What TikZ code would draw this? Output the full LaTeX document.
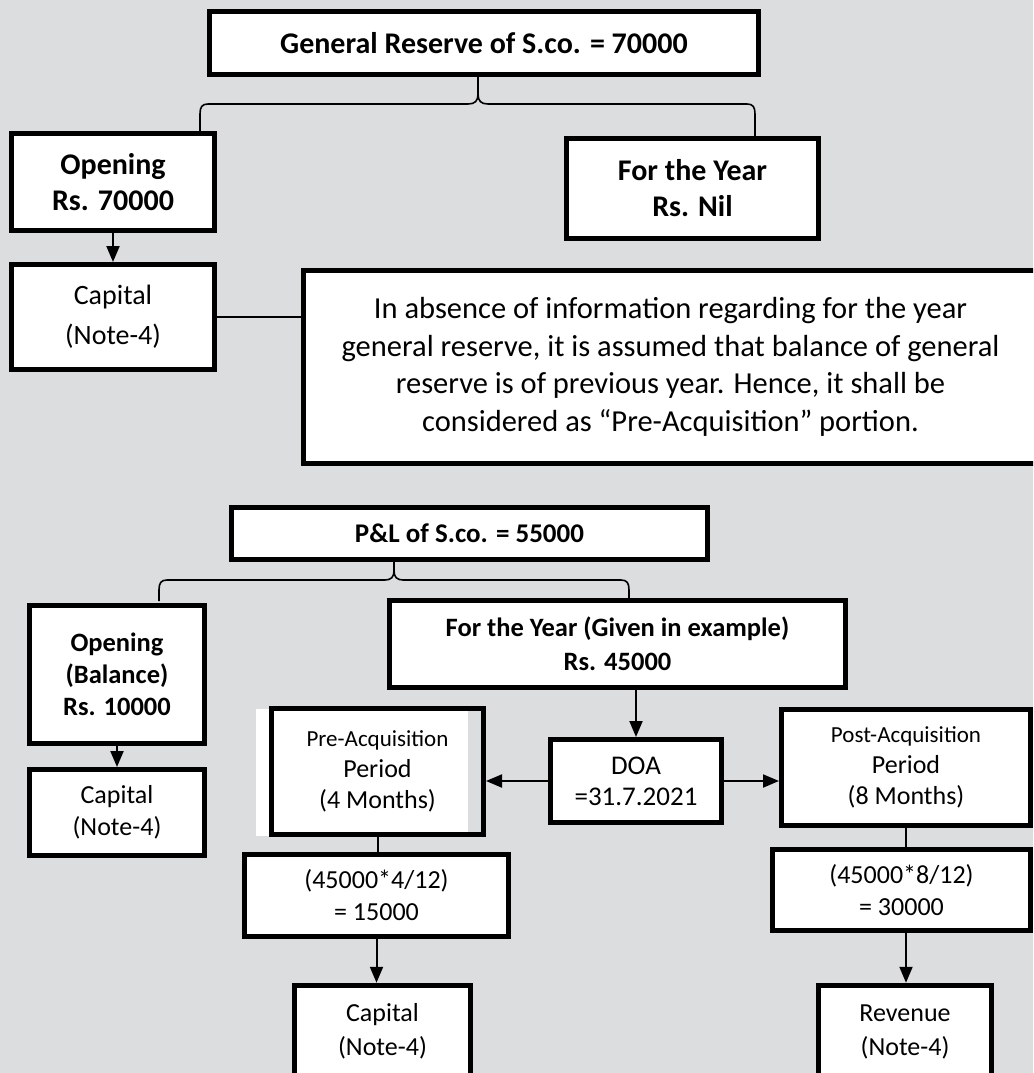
\documentclass[tikz,border=0pt]{standalone}
\usepackage{fontspec}
\setmainfont{Carlito}
\usetikzlibrary{arrows.meta,calc}
\definecolor{bgray}{RGB}{220,221,223}
\newcommand\myfs[2]{\fontsize{#1}{#2}\selectfont}
\begin{document}
\begin{tikzpicture}[x=1pt,y=-1pt,
  box/.style={draw=black, line width=5pt, fill=white, align=center, inner sep=0pt},
  conn/.style={line width=2pt},
  arr/.style={line width=2pt, -{Triangle[width=13pt,length=16pt]}},
  bracepath/.style={line width=1.6pt, line join=round}]
\useasboundingbox (0,0) rectangle (1033,1073);
\clip (0,0) rectangle (1033,1073);
\fill[bgray] (0,0) rectangle (1033,1073);

% ---------- top part ----------
\node[box, minimum width=549pt, minimum height=63pt, font=\myfs{30}{36}\bfseries] (gr) at (484,43) {General Reserve of S.co. = 70000};
\node[box, minimum width=203pt, minimum height=97pt, font=\myfs{30}{36}\bfseries] (op1) at (113,182) {Opening\\Rs. 70000};
\node[box, minimum width=252pt, minimum height=100pt, font=\myfs{30}{36}\bfseries] (fy1) at (692.5,188) {For the Year\\Rs. Nil};
\node[box, minimum width=203pt, minimum height=105pt, font=\myfs{28}{40}] (cap1) at (113,317) {Capital\\(Note-4)};
\node[box, minimum width=734pt, minimum height=193pt, font=\myfs{30.5}{37.5}] (note) at (670.5,367) {In absence of information regarding for the year\\general reserve, it is assumed that balance of general\\reserve is of previous year. Hence, it shall be\\considered as “Pre-Acquisition” portion.};

\coordinate (b1l) at (200,131);
\coordinate (b1r) at (755,136);
\coordinate (b1m) at (478,77);
\draw[bracepath] (b1l) -- (200,114) .. controls (200,107) and (202,104) .. (208,104) -- (468,104) .. controls (475,104) and (478,101) .. (478,94) -- (b1m);
\draw[bracepath] (478,94) .. controls (478,101) and (481,104) .. (488,104) -- (747,104) .. controls (753,104) and (755,107) .. (755,114) -- (b1r);

\draw[arr] (op1.south) -- (cap1.north);
\draw[conn] (cap1.east) -- (cap1.east -| note.west);

% ---------- bottom part ----------
\node[box, minimum width=476pt, minimum height=52pt, font=\myfs{27}{32}\bfseries] (pl) at (469.5,533.5) {P\&L of S.co. = 55000};
\node[box, minimum width=175pt, minimum height=138pt, font=\myfs{26.5}{32}\bfseries] (op2) at (117,674.5) {Opening\\(Balance)\\Rs. 10000};
\node[box, minimum width=175pt, minimum height=86pt, font=\myfs{26}{32}] (cap2) at (117,812.5) {Capital\\(Note-4)};
\node[box, minimum width=456pt, minimum height=87pt, font=\myfs{26.5}{34}\bfseries] (fy2) at (617.5,644) {For the Year (Given in example)\\Rs. 45000};
\node[box, minimum width=171pt, minimum height=83pt, font=\myfs{27}{31}] (doa) at (636,781) {DOA\\=31.7.2021};

\fill[white] (256,709) rectangle (468,836);
\node[box, fill=none, minimum width=212pt, minimum height=126pt, font=\myfs{26}{31}] (pre) at (377.5,771.5) {{\myfs{23}{31}Pre-Acquisition}\\Period\\(4 Months)};
\node[box, minimum width=249pt, minimum height=116pt, font=\myfs{26}{31}] (post) at (906,767.5) {{\myfs{23}{31}Post-Acquisition}\\Period\\(8 Months)};

\node[box, minimum width=264pt, minimum height=82pt, font=\myfs{26}{32}] (calc1) at (376.5,895.5) {(45000*4/12)\\= 15000};
\node[box, minimum width=258pt, minimum height=81pt, font=\myfs{26}{32}] (calc2) at (901.5,890) {(45000*8/12)\\= 30000};
\node[box, minimum width=176pt, minimum height=92.5pt, font=\myfs{26}{34}] (cap3) at (382.5,1031.5) {Capital\\(Note-4)};
\node[box, minimum width=173pt, minimum height=92.5pt, font=\myfs{26}{34}] (rev) at (905,1031.5) {Revenue\\(Note-4)};

\coordinate (b2l) at (159,601);
\coordinate (b2r) at (629,598);
\coordinate (b2m) at (394,562);
\draw[bracepath] (b2l) -- (159,590) .. controls (159,583) and (161,580) .. (167,580) -- (385,580) .. controls (391,580) and (394,577) .. (394,571) -- (b2m);
\draw[bracepath] (394,571) .. controls (394,577) and (397,580) .. (403,580) -- (621,580) .. controls (627,580) and (629,583) .. (629,590) -- (b2r);

\draw[arr] (op2.south) -- (cap2.north);
\draw[arr] (doa.north |- fy2.south) -- (doa.north);
\draw[arr] (doa.west) -- (doa.west -| pre.east);
\draw[arr] (doa.east) -- (doa.east -| post.west);
\draw[conn] (pre.south) -- (pre.south |- calc1.north);
\draw[arr] (calc1.south) -- (calc1.south |- cap3.north);
\draw[conn] (post.south) -- (post.south |- calc2.north);
\draw[arr] (post.south |- calc2.south) -- (post.south |- rev.north);
\end{tikzpicture}
\end{document}
